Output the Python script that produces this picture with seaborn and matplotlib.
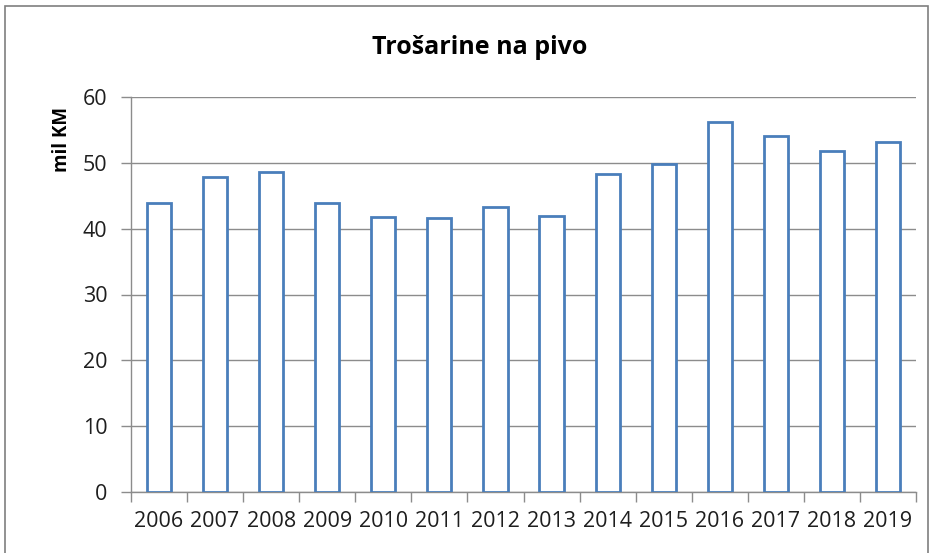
import matplotlib
matplotlib.use("Agg")
import matplotlib.pyplot as plt
from matplotlib.patches import Rectangle
from matplotlib.ticker import FixedLocator
import seaborn as sns
import pandas as pd
import numpy as np

# Excise duty on beer, million KM
years = ["2006", "2007", "2008", "2009", "2010", "2011", "2012",
         "2013", "2014", "2015", "2016", "2017", "2018", "2019"]
values = [43.9, 47.8, 48.6, 43.9, 41.8, 41.6, 43.3,
          41.9, 48.3, 49.8, 56.2, 54.1, 51.8, 53.1]
y_ticks = [0, 10, 20, 30, 40, 50, 60]
title = "Trošarine na pivo"
y_label = "mil KM"

sns.set_theme(style="white")
plt.rcParams["font.family"] = ["Open Sans", "DejaVu Sans"]

W, H = 933, 553
fig = plt.figure(figsize=(W / 100, H / 100), dpi=100)
fig.patch.set_facecolor("white")

# outer chart frame
fig.patches.append(Rectangle((5 / W, -0.05), 923 / W, 1 - 6 / H + 0.05,
                             transform=fig.transFigure, fill=False,
                             edgecolor="#7f7f7f", linewidth=1.2))

left, right, top, bottom = 131, 916, 97, 492
ax = fig.add_axes([left / W, 1 - bottom / H, (right - left) / W, (bottom - top) / H])

df = pd.DataFrame({"year": years, "value": values})
grid_col = "#8c8c8c"
sns.barplot(data=df, x="year", y="value", ax=ax, color="white",
            edgecolor="#4a7ebb", linewidth=2.0, width=0.43, zorder=3)

ax.set_xlim(-0.5, len(years) - 0.5)
ax.set_ylim(0, 60)
ax.set_yticks(y_ticks)
ax.yaxis.grid(True, color=grid_col, linewidth=1.0, zorder=0)
ax.set_axisbelow(True)

for s in ["top", "right"]:
    ax.spines[s].set_visible(False)
for s in ["left", "bottom"]:
    ax.spines[s].set_color(grid_col)
    ax.spines[s].set_linewidth(1.0)

# tick marks between categories, labels centred under the bars
ax.xaxis.set_minor_locator(FixedLocator(np.arange(-0.5, len(years), 1.0)))
ax.tick_params(axis="x", which="major", length=0, pad=14, labelsize=15.5,
               labelcolor="#1e1e1e")
ax.tick_params(axis="x", which="minor", length=7, width=1.0, color=grid_col,
               direction="out", bottom=True)
ax.tick_params(axis="y", which="major", length=7, width=1.0, color=grid_col,
               direction="out", left=True, pad=10, labelsize=15.5,
               labelcolor="#1e1e1e")
ax.set_xlabel("")
ax.set_ylabel("")

fig.text(480 / W, 1 - 48 / H, title, ha="center", va="center",
         fontsize=18, fontweight="bold", color="black")
fig.text(62 / W, 1 - 140 / H, y_label, ha="center", va="center",
         rotation=90, fontsize=13.5, fontweight="bold", color="black")

fig.savefig("out.png", dpi=100, facecolor="white")
